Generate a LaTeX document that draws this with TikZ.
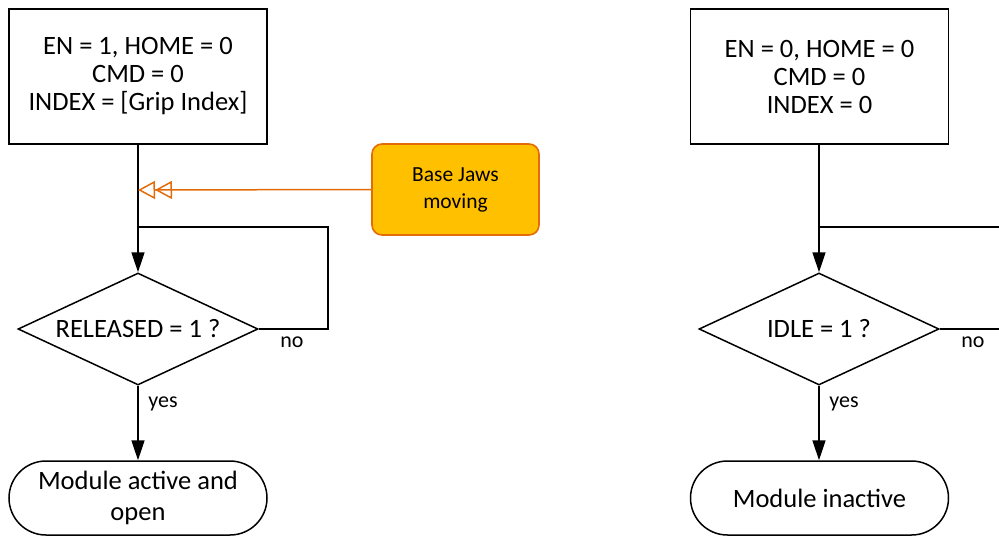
\documentclass[tikz,border=0pt]{standalone}
\usepackage{fontspec}
\setmainfont{Carlito}
\usetikzlibrary{shapes.geometric,arrows.meta}
\definecolor{jawfill}{HTML}{FFC000}
\definecolor{jawline}{HTML}{E36C09}
\tikzset{
  signalhead/.tip={Triangle[open,length=17pt,width=18pt]},
}
\begin{document}
\begin{tikzpicture}[x=1pt,y=-1pt,line width=1.5pt,
  mainfont/.style={font=\fontsize{26.5}{28}\selectfont},
  statebox/.style={draw,mainfont,minimum width=258pt,minimum height=135pt,inner sep=0pt,align=center},
  decision/.style={diamond,draw,mainfont,minimum width=240pt,minimum height=112pt,inner sep=0pt,aspect=2.14},
  terminal/.style={draw,rounded corners=37pt,minimum width=258pt,minimum height=74pt,inner sep=0pt,align=center,font=\fontsize{26.5}{31}\selectfont},
  note/.style={draw=jawline,fill=jawfill,rounded corners=10pt,minimum width=167pt,minimum height=91pt,inner sep=0pt,align=center,font=\fontsize{21.5}{27}\selectfont,line width=1.6pt},
  lbl/.style={font=\fontsize{22}{24}\selectfont,inner sep=0pt},
  flow/.style={-{Triangle[length=20pt,width=13pt]}},
  signal/.style={draw=jawline,line width=1.5pt,-{signalhead[]signalhead[]}}]
\clip (0,0) rectangle (999,536);
% nodes
\node[statebox] (b1) at (138,76.5) {EN = 1, HOME = 0\\CMD = 0\\INDEX = [Grip Index]};
\node[statebox] (b2) at (819.5,76.5) {EN = 0, HOME = 0\\CMD = 0\\INDEX = 0};
\node[note] (jaws) at (455.5,189.5) {Base Jaws\\moving};
\node[decision] (d1) at (138,329) {RELEASED = 1 ?};
\node[decision] (d2) at (819,329) {IDLE = 1 ?};
\node[terminal] (t1) at (138,498) {Module active and\\open};
\node[terminal] (t2) at (819.5,498) {Module inactive};
\node[lbl] (no1) at (292,342) {no};
\node[lbl] (no2) at (973,342) {no};
\node[lbl] (yes1) at (163,404) {yes};
\node[lbl] (yes2) at (844,404) {yes};
% coordinates
\coordinate (m1) at (138,190);
\coordinate (j1) at (138,227);
\coordinate (c1a) at (328,329);
\coordinate (c1b) at (328,227);
\coordinate (j2) at (819,227);
\coordinate (c2a) at (1010,329);
\coordinate (c2b) at (1010,227);
% connectors
\draw[flow] (b1.south) -- (d1.north);
\draw[flow] (b2.south -| d2.north) -- (d2.north);
\draw (d1.east) -- (c1a) -- (c1b) -- (j1);
\draw (d2.east) -- (c2a) -- (c2b) -- (j2);
\draw[flow] (d1.south) -- (t1.north -| d1.south);
\draw[flow] (d2.south) -- (t2.north -| d2.south);
\draw[signal] (jaws.west) -- (m1);
\end{tikzpicture}
\end{document}
